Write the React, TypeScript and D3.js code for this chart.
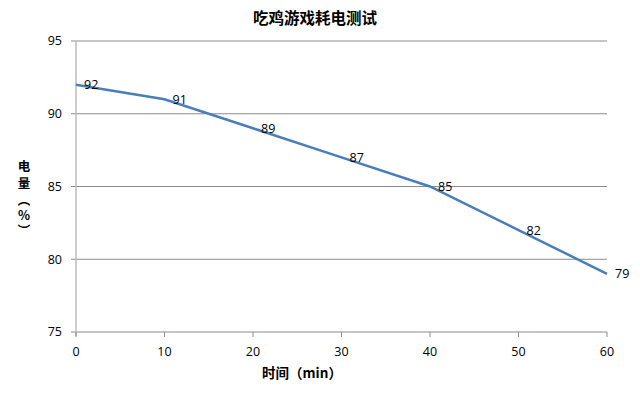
import React from "react";
import { scaleLinear, line } from "d3";

const minutes = [0, 10, 20, 30, 40, 50, 60];
const battery = [92, 91, 89, 87, 85, 82, 79];
const yTicks = [75, 80, 85, 90, 95];
const xTicks = [0, 10, 20, 30, 40, 50, 60];
const title = "吃鸡游戏耗电测试";
const xTitle = "时间（min）";
// vertical y title, one glyph per row
const yTitleChars = ["电", "量", "︵", "%", "︶"];

const W = 640;
const H = 395;
const margin = { top: 41, right: 33, bottom: 63, left: 76 };
const font = "'Open Sans', 'Noto Sans', sans-serif";
const cjk = "'Noto Sans CJK SC', sans-serif";

export default function App() {
  const x = scaleLinear().domain([0, 60]).range([margin.left, W - margin.right]);
  const y = scaleLinear().domain([75, 95]).range([H - margin.bottom, margin.top]);
  const path = line<number>()
    .x((_, i) => x(minutes[i]))
    .y((d) => y(d))(battery);
  const yTitleRows = [167, 184, 201, 216, 231];

  return (
    <svg
      width={W}
      height={H}
      style={{ position: "absolute", left: 0, top: 0, background: "#fff" }}
    >
      <text x={315} y={24} textAnchor="middle" fontFamily={cjk} fontWeight="bold" fontSize={15.5} fill="#000">
        {title}
      </text>
      {yTicks.map((t) => (
        <g key={t}>
          <line x1={x(0) - 5} x2={x(60)} y1={y(t)} y2={y(t)} stroke="#8c8c8c" strokeWidth={1} />
          <text x={62} y={y(t)} dy="0.35em" textAnchor="end" fontFamily={font} fontSize={12.5} fill="#000">
            {t}
          </text>
        </g>
      ))}
      <line x1={x(0)} x2={x(0)} y1={y(95)} y2={y(75) + 4} stroke="#bcbcbc" strokeWidth={1.5} />
      {xTicks.map((t) => (
        <g key={t}>
          <line x1={x(t)} x2={x(t)} y1={y(75)} y2={y(75) + 5} stroke="#8c8c8c" />
          <text x={x(t)} y={y(75) + 24} textAnchor="middle" fontFamily={font} fontSize={12.5} fill="#000">
            {t}
          </text>
        </g>
      ))}
      <path d={path ?? ""} fill="none" stroke="#4a7ebb" strokeWidth={2.5} />
      {battery.map((v, i) => (
        <text
          key={i}
          x={x(minutes[i]) + 8}
          y={y(v)}
          dy="0.35em"
          fontFamily={font}
          fontSize={12.5}
          fill="#000"
        >
          {v}
        </text>
      ))}
      <text x={302} y={378} textAnchor="middle" fontFamily={cjk} fontWeight="bold" fontSize={13.5} fill="#000">
        {xTitle}
      </text>
      {yTitleChars.map((c, i) => (
        <text
          key={i}
          x={24}
          y={yTitleRows[i]}
          dy="0.35em"
          textAnchor="middle"
          fontFamily={cjk}
          fontWeight="bold"
          fontSize={12.5}
          fill="#000"
        >
          {c}
        </text>
      ))}
    </svg>
  );
}
